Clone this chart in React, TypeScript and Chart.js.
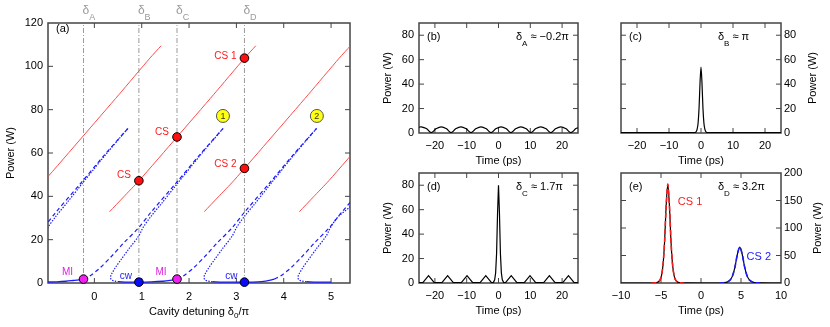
import React, { useEffect, useRef } from 'react';
import { Chart, registerables } from 'chart.js';

Chart.register(...registerables);

const FONT = '"Liberation Sans", Arial, Helvetica, sans-serif';
Chart.defaults.font.family = FONT;
Chart.defaults.font.size = 11;
Chart.defaults.color = '#000';

type Pt = [number, number];

// ---------------- Panel (a): power vs cavity detuning (δ0/π) ----------------
const deltaMarkers = [-0.23, 0.94, 1.745, 3.17];
const deltaMarkerNames = ['A', 'B', 'C', 'D'];
const detuningTicks = [0, 1, 2, 3, 4, 5];
const powerTicksA = [0, 20, 40, 60, 80, 100, 120];

// cavity soliton branches (red)
const soliton1: Pt[] = [[-1.68, 32.9], [-1.38, 39.8], [-1.057, 47.2], [-0.254, 67.4], [0.52, 87], [1.173, 103.8], [1.41, 109.5]];
const soliton2: Pt[] = [[0.32, 32.9], [0.62, 39.8], [0.943, 47.2], [1.746, 67.4], [2.52, 87], [3.173, 103.8], [3.41, 109.5]];
const soliton3: Pt[] = [[2.32, 32.9], [2.62, 39.8], [2.943, 47.2], [3.746, 67.4], [4.52, 87], [5.173, 103.8], [5.41, 109.5]];
const soliton4: Pt[] = [[4.33, 32.9], [4.63, 39.8], [4.953, 47.2], [5.756, 67.4]];

// cw response: lower stable branch (solid)
const cwLower1: Pt[] = [[-1.2, 0.4], [-0.98, 0.45], [-0.8, 0.55], [-0.6, 0.8], [-0.45, 1.15], [-0.33, 1.45], [-0.23, 1.8]];
const cwLower2: Pt[] = [[0.52, 0.6], [0.7, 0.45], [0.94, 0.4], [1.2, 0.5], [1.45, 0.8], [1.6, 1.2], [1.745, 1.8]];
const cwLower3: Pt[] = [[2.495, 0.6], [2.7, 0.45], [2.95, 0.4], [3.17, 0.4], [3.45, 0.55], [3.62, 0.9], [3.72, 1.3], [3.8, 1.8]];
const cwLower4: Pt[] = [[4.48, 0.6], [4.7, 0.45], [5.0, 0.4]];

// cw response: upper (MI-unstable) branch (dashed)
const cwUpper1: Pt[] = [[-1.39, 18.5], [-1.066, 25.7], [-0.82, 32.5], [-0.29, 46], [0.21, 59], [0.71, 71.4]];
const cwUpper2: Pt[] = [[-0.23, 1.8], [-0.08, 3.5], [0.12, 7], [0.37, 12.5], [0.62, 18.5], [0.944, 25.7], [1.19, 32.5], [1.72, 46], [2.22, 59], [2.72, 71.4]];
const cwUpper3: Pt[] = [[1.745, 1.8], [1.895, 3.5], [2.095, 7], [2.345, 12.5], [2.595, 18.5], [2.92, 25.7], [3.165, 32.5], [3.695, 46], [4.195, 59], [4.695, 71.4]];
const cwUpper4: Pt[] = [[3.8, 1.8], [3.95, 3.5], [4.15, 7], [4.4, 12.5], [4.65, 18.5], [4.97, 25.7], [5.22, 32.5], [5.75, 46]];

// cw response: middle (unstable) branch (dotted)
const cwMiddle1: Pt[] = [[-1.29, 15.5], [-1.07, 21.8], [-0.98, 25.7], [-0.82, 30.6], [-0.58, 37], [-0.29, 45], [0.21, 58.5], [0.71, 71.4]];
const cwMiddle2: Pt[] = [[0.52, 0.6], [0.42, 0.9], [0.36, 1.5], [0.34, 2.5], [0.36, 4], [0.44, 7], [0.57, 11], [0.72, 15.5], [0.94, 21.8], [1.03, 25.7], [1.19, 30.6], [1.43, 37], [1.72, 45], [2.22, 58.5], [2.72, 71.4]];
const cwMiddle3: Pt[] = [[2.495, 0.6], [2.395, 0.9], [2.335, 1.5], [2.315, 2.5], [2.335, 4], [2.415, 7], [2.545, 11], [2.695, 15.5], [2.915, 21.8], [3.005, 25.7], [3.165, 30.6], [3.405, 37], [3.695, 45], [4.195, 58.5], [4.695, 71.4]];
const cwMiddle4: Pt[] = [[4.48, 0.6], [4.38, 0.9], [4.32, 1.5], [4.3, 2.5], [4.32, 4], [4.4, 7], [4.53, 11], [4.68, 15.5], [4.9, 21.8], [4.99, 25.7], [5.15, 30.6], [5.45, 36], [5.75, 43]];

const csPoints: Pt[] = [[0.94, 47.2], [1.745, 67.4], [3.17, 103.8], [3.17, 52.9]];
const csLabels = ['CS', 'CS', 'CS 1', 'CS 2'];
const miPoints: Pt[] = [[-0.23, 1.8], [1.745, 1.8]];
const miLabels = ['MI', 'MI'];
const cwPoints: Pt[] = [[0.94, 0.4], [3.17, 0.4]];
const cwLabels = ['cw', 'cw'];
const tiltPoints: Pt[] = [[2.716, 77.1], [4.7, 77.1]];
const tiltLabels = ['1', '2'];

// ---------------- Panels (b)-(e): intracavity power vs time ----------------
const timeTicksWide = [-20, -10, 0, 10, 20];
const timeTicksNarrow = [-10, -5, 0, 5, 10];
const powerTicksSmall = [0, 20, 40, 60, 80];
const powerTicksLarge = [0, 50, 100, 150, 200];

const timeB = [-25, -24.3, -22.7, -21.15, -19.55, -18.0, -16.45, -14.9, -13.35, -11.8, -10.25, -8.65, -7.05, -5.5, -3.95, -2.35, -0.75, 0.8, 2.35, 3.9, 5.5, 7.05, 8.6, 10.2, 11.75, 13.3, 14.85, 16.45, 18.05, 19.6, 21.15, 22.75, 24.35, 25];
const powerB = [4.7, 5, 3.6, 0.4, 3.6, 5, 3.6, 0.4, 3.6, 5, 3.6, 0.4, 3.6, 5, 3.6, 0.4, 3.6, 5, 3.6, 0.4, 3.6, 5, 3.6, 0.4, 3.6, 5, 3.6, 0.4, 3.6, 5, 3.6, 0.4, 3.6, 4.3];

const timeC = [-25, -2.6, -2.0, -1.6, -1.2, -0.9, -0.6, -0.3, 0, 0.3, 0.6, 0.9, 1.2, 1.6, 2.0, 2.6, 25];
const powerC = [0.3, 0.3, 0.3, 0.8, 3.1, 8.4, 20.8, 41.4, 54, 41.4, 20.8, 8.4, 3.1, 0.8, 0.3, 0.3, 0.3];

const timeD = [-25, -23.8, -22.0, -20.2, -17.8, -16.0, -14.2, -11.7, -9.9, -8.1, -5.8, -4.0, -2.2, -1.6, -1.2, -0.9, -0.6, -0.3, 0, 0.3, 0.6, 0.9, 1.2, 1.6, 2.2, 4.0, 5.8, 8.1, 9.9, 11.7, 14.2, 16.0, 17.8, 20.2, 22.0, 23.8, 25];
const powerD = [0.3, 0.3, 6, 0.3, 0.3, 6, 0.3, 0.3, 6, 0.3, 0.3, 6, 0.3, 0.5, 2.6, 8.3, 24.4, 57, 80, 57, 24.4, 8.3, 2.6, 0.5, 0.3, 6, 0.3, 0.3, 6, 0.3, 0.3, 6, 0.3, 0.3, 6, 0.3, 0.3];

const timeE = [-10, -6, -5.85, -5.45, -5.15, -4.95, -4.75, -4.55, -4.35, -4.15, -3.95, -3.75, -3.55, -3.35, -3.15, -2.85, -2.45, 2.35, 2.85, 3.25, 3.65, 3.95, 4.25, 4.55, 4.85, 5.15, 5.45, 5.75, 6.05, 6.45, 6.85, 7.35, 10];
const powerE = [0, 0, 0.1, 1.1, 4.8, 12.7, 32.5, 75.6, 141.5, 180, 141.5, 75.6, 32.5, 12.7, 4.8, 1.1, 0.1, 0, 0.46, 1.6, 5.6, 13.4, 29.4, 52.3, 65.5, 52.3, 29.4, 13.4, 5.6, 1.6, 0.46, 0.1, 0];
const timeCS1 = [-6.2, -5.85, -5.45, -5.15, -4.95, -4.75, -4.55, -4.35, -4.15, -3.95, -3.75, -3.55, -3.35, -3.15, -2.85, -2.45, -2.1];
const powerCS1 = [0, 0.1, 1.1, 4.8, 12.7, 32.5, 75.6, 141.5, 180, 141.5, 75.6, 32.5, 12.7, 4.8, 1.1, 0.1, 0];
const timeCS2 = [2.3, 2.85, 3.25, 3.65, 3.95, 4.25, 4.55, 4.85, 5.15, 5.45, 5.75, 6.05, 6.45, 6.85, 7.35];
const powerCS2 = [0, 0.46, 1.6, 5.6, 13.4, 29.4, 52.3, 65.5, 52.3, 29.4, 13.4, 5.6, 1.6, 0.46, 0.1];

// ---------------- helpers ----------------
const toXY = (pts: Pt[]) => pts.map(([x, y]) => ({ x, y }));
const zip = (xs: number[], ys: number[]) => xs.map((x, i) => ({ x, y: ys[i] }));
const fmtTick = (v: any) => {
  const n = Number(v);
  if (Math.abs(n) < 1e-9) return '0';
  return n < 0 ? '\u2212' + Math.abs(n) : String(n);
};
const FRAME = '#444';
const TICK_LEN = 5;

function drawFrame(chart: any, yId: string) {
  const { ctx, chartArea: a } = chart;
  const xs = chart.scales.x;
  const ys = chart.scales[yId];
  ctx.save();
  ctx.strokeStyle = FRAME;
  ctx.lineWidth = 1;
  ctx.beginPath();
  xs.ticks.forEach((t: any) => {
    const p = xs.getPixelForValue(t.value);
    if (p <= a.left + 1 || p >= a.right - 1) return;
    ctx.moveTo(p, a.bottom);
    ctx.lineTo(p, a.bottom - TICK_LEN);
    ctx.moveTo(p, a.top);
    ctx.lineTo(p, a.top + TICK_LEN);
  });
  ys.ticks.forEach((t: any) => {
    const p = ys.getPixelForValue(t.value);
    if (p <= a.top + 1 || p >= a.bottom - 1) return;
    ctx.moveTo(a.left, p);
    ctx.lineTo(a.left + TICK_LEN, p);
    ctx.moveTo(a.right, p);
    ctx.lineTo(a.right - TICK_LEN, p);
  });
  ctx.stroke();
  ctx.lineWidth = 1.5;
  ctx.strokeRect(a.left, a.top, a.right - a.left, a.bottom - a.top);
  ctx.restore();
}

type Part = { t: string; sub?: boolean };
function drawParts(ctx: any, parts: Part[], x: number, y: number, size: number, color: string, align: 'left' | 'center' | 'right', rotate = 0, subDrop = 0.6) {
  ctx.save();
  ctx.fillStyle = color;
  ctx.textBaseline = 'middle';
  ctx.textAlign = 'left';
  const subSize = Math.round(size * 0.72);
  const widths = parts.map((p) => {
    ctx.font = `${p.sub ? subSize : size}px ${FONT}`;
    return ctx.measureText(p.t).width;
  });
  const total = widths.reduce((s, w) => s + w, 0);
  ctx.translate(x, y);
  if (rotate) ctx.rotate(rotate);
  let cx = align === 'left' ? 0 : align === 'center' ? -total / 2 : -total;
  parts.forEach((p, i) => {
    ctx.font = `${p.sub ? subSize : size}px ${FONT}`;
    ctx.fillText(p.t, cx, p.sub ? size * subDrop : 0);
    cx += widths[i];
  });
  ctx.restore();
}

const dotDs = (pts: Pt[], color: string, radius = 4, border = '#000') => ({
  type: 'scatter',
  data: toXY(pts),
  showLine: false,
  pointRadius: radius,
  pointBackgroundColor: color,
  pointBorderColor: border,
  pointBorderWidth: 1,
  clip: false,
  order: 0,
});
const curveDs = (data: any[], color: string, width: number, dash: number[], order: number, tension = 0) => ({
  type: 'scatter',
  data,
  showLine: true,
  pointRadius: 0,
  borderColor: color,
  borderWidth: width,
  borderDash: dash,
  tension,
  clip: 0,
  order,
  fill: false,
});

function xAxis(min: number, max: number, tickValues: number[], height: number, pad: number, title?: string) {
  return {
    type: 'linear',
    position: 'bottom',
    min,
    max,
    afterBuildTicks: (s: any) => {
      s.ticks = tickValues.map((value) => ({ value }));
    },
    ticks: { padding: pad, maxRotation: 0, minRotation: 0, autoSkip: false, callback: fmtTick, color: '#000', font: { size: 11 } },
    grid: { display: false, drawTicks: false },
    border: { display: false },
    title: title
      ? { display: true, text: title, padding: { top: 0, bottom: 0 }, color: '#000', font: { size: 11 } }
      : { display: false },
    afterFit: (s: any) => {
      s.height = height;
    },
  };
}
function yAxis(position: 'left' | 'right', min: number, max: number, tickValues: number[], width: number, pad: number, title?: string, titlePad = 0) {
  return {
    type: 'linear',
    position,
    min,
    max,
    afterBuildTicks: (s: any) => {
      s.ticks = tickValues.map((value) => ({ value }));
    },
    ticks: { padding: pad, callback: fmtTick, color: '#000', font: { size: 11 } },
    grid: { display: false, drawTicks: false },
    border: { display: false },
    title: title
      ? { display: true, text: title, padding: { top: titlePad, bottom: 0 }, color: '#000', font: { size: 11 } }
      : { display: false },
    afterFit: (s: any) => {
      s.width = width;
    },
  };
}
const baseOptions = (padding: any) => ({
  responsive: false,
  maintainAspectRatio: false,
  animation: false,
  devicePixelRatio: 1,
  events: [],
  layout: { padding },
  plugins: { legend: { display: false }, tooltip: { enabled: false }, title: { display: false } },
});

// ---------------- panel builders ----------------
function buildA() {
  const blue = '#1a1aff';
  const red = '#ff4a4a';
  const gray = '#9a9a9a';
  const datasets: any[] = [
    dotDs(csPoints, '#ff1010', 4.3),
    dotDs(miPoints, '#f020f0', 4.3),
    dotDs(cwPoints, '#0a0aff', 4.3),
    dotDs(tiltPoints, '#ffff10', 6.5, '#555'),
    ...[cwLower1, cwLower2, cwLower3, cwLower4].map((p) => curveDs(toXY(p), blue, 1.3, [], 1, 0.3)),
    ...[cwUpper1, cwUpper2, cwUpper3, cwUpper4].map((p) => curveDs(toXY(p), blue, 1.2, [4, 3], 1, 0.3)),
    ...[cwMiddle1, cwMiddle2, cwMiddle3, cwMiddle4].map((p) => curveDs(toXY(p), blue, 1.2, [1.4, 1.4], 1, 0.3)),
    ...[soliton1, soliton2, soliton3, soliton4].map((p) => curveDs(toXY(p), red, 1, [], 2, 0.2)),
    ...deltaMarkers.map((d) => curveDs([{ x: d, y: 0 }, { x: d, y: 120 }], gray, 1, [5, 2, 1, 2], 3)),
  ];
  const plugin = {
    id: 'decorA',
    beforeDatasetsDraw(chart: any) {
      drawFrame(chart, 'y');
    },
    afterDatasetsDraw(chart: any) {
      const { ctx, chartArea: a } = chart;
      const xs = chart.scales.x;
      const ys = chart.scales.y;
      drawParts(ctx, [{ t: '(a)' }], a.left + 8, a.top + 6, 11, '#000', 'left');
      deltaMarkers.forEach((d, i) =>
        drawParts(ctx, [{ t: 'δ' }, { t: deltaMarkerNames[i], sub: true }], xs.getPixelForValue(d) - 1, a.top - 12.5, 12, '#999', 'left')
      );
      const labelAt = (pts: Pt[], labels: string[], color: string, dx: number, dys: number[]) =>
        pts.forEach(([x, y], i) =>
          drawParts(ctx, [{ t: labels[i] }], xs.getPixelForValue(x) + dx, ys.getPixelForValue(y) + dys[i], 10, color, 'right')
        );
      labelAt(csPoints, csLabels, '#ff1a1a', -8, [-5, -5, -2, -4]);
      labelAt(miPoints, miLabels, '#e020e0', -10.5, [-6.5, -6.5]);
      labelAt(cwPoints, cwLabels, '#1a1aff', -7, [-6, -6]);
      tiltPoints.forEach(([x, y], i) =>
        drawParts(ctx, [{ t: tiltLabels[i] }], xs.getPixelForValue(x), ys.getPixelForValue(y) + 0.5, 9, '#333', 'center')
      );
      drawParts(ctx, [{ t: 'Cavity detuning δ' }, { t: '0', sub: true }, { t: '/π' }], (a.left + a.right) / 2, a.bottom + 28.7, 11, '#000', 'center', 0, 0.4);
    },
  };
  return {
    type: 'scatter',
    data: { datasets },
    options: {
      ...baseOptions({ top: 23, right: 30, bottom: 0, left: 0 }),
      scales: {
        x: xAxis(-0.98, 5.4, detuningTicks, 44, 7),
        y: yAxis('left', 0, 120, powerTicksA, 48, 5, 'Power (W)', 4.4),
      },
    },
    plugins: [plugin],
  };
}

type RightOpts = {
  letter: string;
  deltaName: string;
  deltaText: string;
  side: 'left' | 'right';
  yMax: number;
  yTicks: number[];
  xMin: number;
  xMax: number;
  xTicks: number[];
  bottomPad: number;
  datasets: any[];
  rightTitleX?: number;
  extra?: (chart: any) => void;
};
function buildRight(o: RightOpts) {
  const plugin = {
    id: 'decor' + o.letter,
    beforeDatasetsDraw(chart: any) {
      drawFrame(chart, 'y');
    },
    afterDatasetsDraw(chart: any) {
      const { ctx, chartArea: a } = chart;
      drawParts(ctx, [{ t: '(' + o.letter + ')' }], a.left + 8, a.top + 13.7, 11, '#000', 'left');
      drawParts(ctx, [{ t: 'δ' }, { t: o.deltaName, sub: true }, { t: ' ≈ ' + o.deltaText }], a.left + 97, a.top + 13.7, 11, '#000', 'left');
      if (o.rightTitleX !== undefined) {
        drawParts(ctx, [{ t: 'Power (W)' }], o.rightTitleX, (a.top + a.bottom) / 2, 11, '#000', 'center', -Math.PI / 2);
      }
      if (o.extra) o.extra(chart);
    },
  };
  const padding =
    o.side === 'left'
      ? { top: 23, right: 12, bottom: o.bottomPad, left: 0 }
      : { top: 23, right: 0, bottom: o.bottomPad, left: 21 };
  return {
    type: 'scatter',
    data: { datasets: o.datasets },
    options: {
      ...baseOptions(padding),
      scales: {
        x: xAxis(o.xMin, o.xMax, o.xTicks, 35, 6, 'Time (ps)'),
        y:
          o.side === 'left'
            ? yAxis('left', 0, o.yMax, o.yTicks, 59, 5, 'Power (W)', 21.7)
            : yAxis('right', 0, o.yMax, o.yTicks, 49, 3),
      },
    },
    plugins: [plugin],
  };
}

const buildB = () =>
  buildRight({
    letter: 'b', deltaName: 'A', deltaText: '\u22120.2π', side: 'left', yMax: 90, yTicks: powerTicksSmall,
    xMin: -25, xMax: 25, xTicks: timeTicksWide, bottomPad: 2,
    datasets: [curveDs(zip(timeB, powerB), '#000', 1.2, [], 1, 0.4)],
  });
const buildC = () =>
  buildRight({
    letter: 'c', deltaName: 'B', deltaText: 'π', side: 'right', yMax: 90, yTicks: powerTicksSmall,
    xMin: -25, xMax: 25, xTicks: timeTicksWide, bottomPad: 2, rightTitleX: 212.5,
    datasets: [curveDs(zip(timeC, powerC), '#000', 1.2, [], 1, 0.3)],
  });
const buildD = () =>
  buildRight({
    letter: 'd', deltaName: 'C', deltaText: '1.7π', side: 'left', yMax: 90, yTicks: powerTicksSmall,
    xMin: -25, xMax: 25, xTicks: timeTicksWide, bottomPad: 9,
    datasets: [curveDs(zip(timeD, powerD), '#000', 1.2, [], 1, 0)],
  });
const buildE = () =>
  buildRight({
    letter: 'e', deltaName: 'D', deltaText: '3.2π', side: 'right', yMax: 200, yTicks: powerTicksLarge,
    xMin: -10, xMax: 10, xTicks: timeTicksNarrow, bottomPad: 9, rightTitleX: 218,
    datasets: [
      curveDs(zip(timeCS1, powerCS1), '#ff1a1a', 1.6, [5, 3], 1, 0.3),
      curveDs(zip(timeCS2, powerCS2), '#1a1aff', 1.6, [5, 3], 1, 0.3),
      curveDs(zip(timeE, powerE), '#000', 1.2, [], 2, 0.3),
    ],
    extra: (chart: any) => {
      const { ctx } = chart;
      const xs = chart.scales.x;
      const ys = chart.scales.y;
      drawParts(ctx, [{ t: 'CS 1' }], xs.getPixelForValue(-2.9), ys.getPixelForValue(148), 11, '#ff1a1a', 'left');
      drawParts(ctx, [{ t: 'CS 2' }], xs.getPixelForValue(5.7), ys.getPixelForValue(47), 11, '#1a1aff', 'left');
    },
  });

function ChartPanel({ left, top, width, height, build }: { left: number; top: number; width: number; height: number; build: () => any }) {
  const ref = useRef<HTMLCanvasElement>(null);
  useEffect(() => {
    const chart = new Chart(ref.current as HTMLCanvasElement, build());
    return () => chart.destroy();
  }, []);
  return (
    <canvas
      ref={ref}
      width={width}
      height={height}
      style={{ position: 'absolute', left, top, width, height }}
    />
  );
}

export default function App() {
  return (
    <div style={{ position: 'absolute', left: 0, top: 0, width: 830, height: 327, background: '#fff', overflow: 'hidden' }}>
      <ChartPanel left={0} top={0} width={380} height={327} build={buildA} />
      <ChartPanel left={360} top={0} width={230} height={170} build={buildB} />
      <ChartPanel left={600} top={0} width={230} height={170} build={buildC} />
      <ChartPanel left={360} top={150} width={230} height={177} build={buildD} />
      <ChartPanel left={600} top={150} width={230} height={177} build={buildE} />
    </div>
  );
}
